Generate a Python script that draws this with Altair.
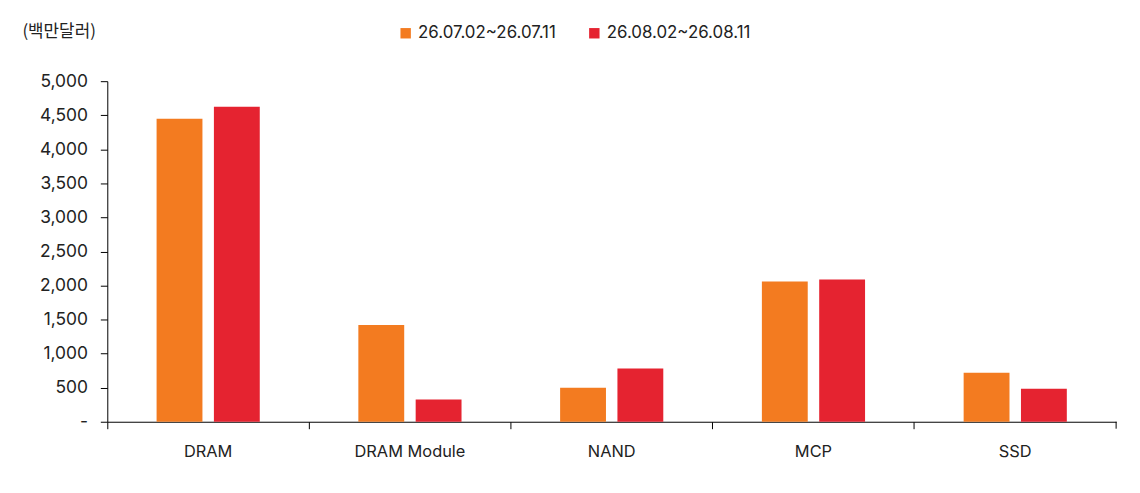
import altair as alt
import pandas as pd

categories = ["DRAM", "DRAM Module", "NAND", "MCP", "SSD"]
series_names = ["26.07.02~26.07.11", "26.08.02~26.08.11"]
jul_values = [4450, 1420, 500, 2060, 720]
aug_values = [4625, 325, 780, 2090, 485]
y_ticks = [0, 500, 1000, 1500, 2000, 2500, 3000, 3500, 4000, 4500, 5000]
unit_label = "(백만달러)"

rows = []
for c, a, b in zip(categories, jul_values, aug_values):
    rows.append({"category": c, "period": series_names[0], "value": a})
    rows.append({"category": c, "period": series_names[1], "value": b})
df = pd.DataFrame(rows)

FONT = "Inter"
W, H = 1016, 343

bars = alt.Chart(df).mark_bar().encode(
    x=alt.X("category:N", sort=categories,
            scale=alt.Scale(paddingInner=0, paddingOuter=0),
            axis=alt.Axis(title=None, labelAngle=0, bandPosition=0,
                          tickSize=7, tickColor="#000",
                          domainColor="#000", labelFont=FONT, labelFontSize=16.5,
                          labelColor="#222", labelPadding=15)),
    xOffset=alt.XOffset("period:N", sort=series_names,
                        scale=alt.Scale(paddingInner=0.2, paddingOuter=0.86)),
    y=alt.Y("value:Q",
            scale=alt.Scale(domain=[0, 5000], nice=False),
            axis=alt.Axis(values=y_ticks, grid=False, tickSize=7,
                          tickColor="#000", domainColor="#000",
                          labelExpr="datum.value == 0 ? '-' : format(datum.value, ',')",
                          labelFont=FONT, labelFontSize=17.5, labelColor="#222",
                          labelPadding=13,
                          title=unit_label, titleAngle=0, titleAlign="left",
                          titleBaseline="middle", titleX=-86, titleY=-50,
                          titleFont="Noto Sans CJK KR", titleFontSize=17,
                          titleFontWeight="normal", titleColor="#222")),
    color=alt.Color("period:N", sort=series_names,
                    scale=alt.Scale(domain=series_names, range=["#F37B20", "#E52330"]),
                    legend=alt.Legend(title=None, orient="none", direction="horizontal",
                                      legendX=292, legendY=-57, symbolType="square",
                                      symbolSize=110, symbolStrokeWidth=0,
                                      labelFont=FONT, labelFontSize=17, labelColor="#222",
                                      labelOffset=4, columnPadding=30, padding=0)),
)

end_tick = alt.Chart(alt.Data(values=[{}])).mark_rule(color="#000", strokeWidth=1).encode(
    x=alt.value(W), y=alt.value(H), y2=alt.value(H + 7)
)

chart = alt.layer(bars, end_tick).properties(
    width=W, height=H,
    background="white",
    autosize=alt.AutoSizeParams(type="none"),
    padding={"left": 100, "top": 72, "right": 16, "bottom": 62},
).configure_view(strokeWidth=0, stroke="transparent")

chart.save("out.html", embed_options={"renderer": "svg", "actions": False})
